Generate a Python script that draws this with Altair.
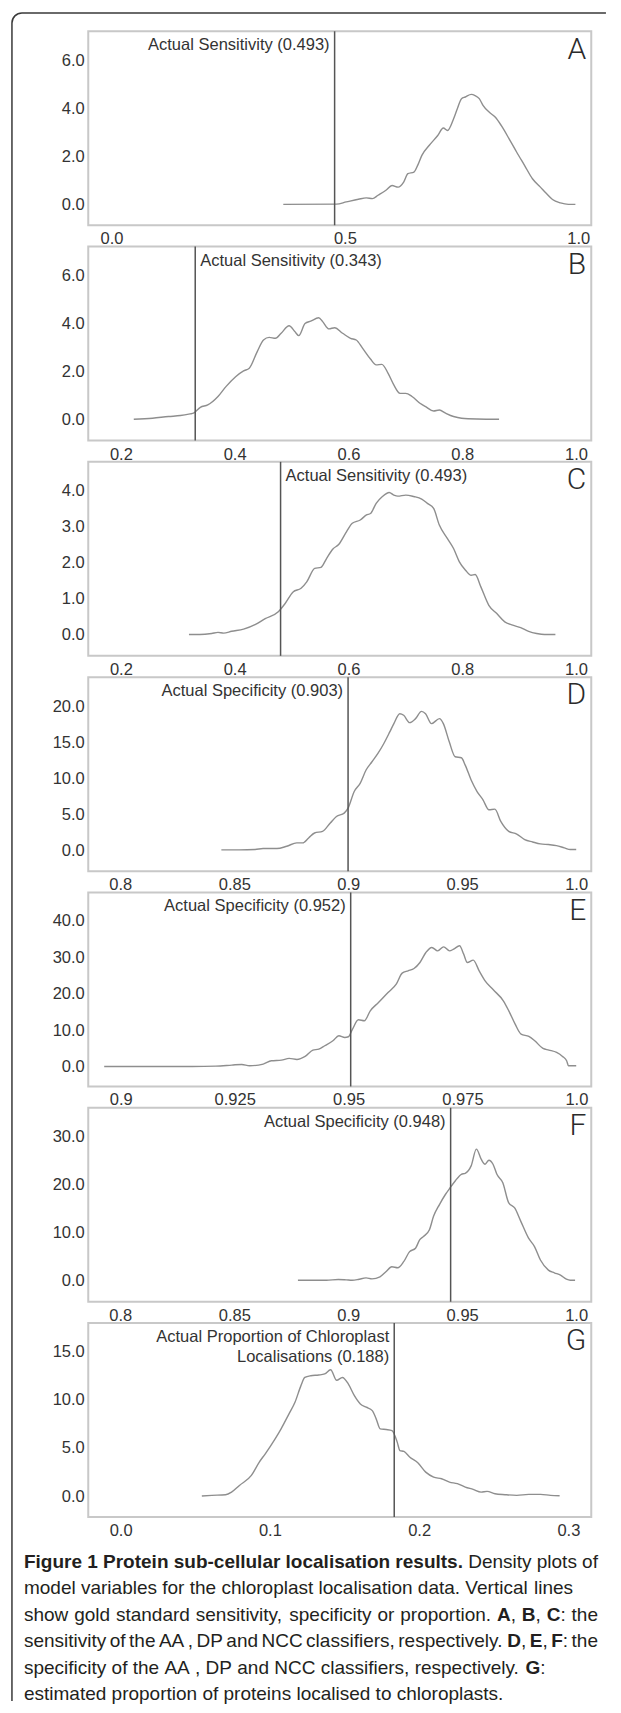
import altair as alt
import pandas as pd

# ---------------- curve data ----------------
A_x = [0.383, 0.497, 0.518, 0.544, 0.561, 0.574, 0.586, 0.603, 0.616, 0.629, 0.641, 0.650, 0.663, 0.671, 0.680, 0.696, 0.714, 0.726, 0.735, 0.748, 0.756, 0.765, 0.773, 0.786, 0.794, 0.803, 0.811, 0.824, 0.837, 0.850, 0.867, 0.883, 0.900, 0.917, 0.934, 0.947, 0.960, 0.977, 0.994, 1.009]
A_y = [0.00, 0.01, 0.10, 0.21, 0.27, 0.24, 0.38, 0.59, 0.79, 0.72, 0.93, 1.28, 1.35, 1.63, 2.05, 2.47, 2.88, 3.19, 3.09, 3.58, 4.00, 4.42, 4.49, 4.60, 4.55, 4.42, 4.14, 3.86, 3.65, 3.30, 2.74, 2.19, 1.63, 1.07, 0.72, 0.45, 0.20, 0.06, 0.00, 0.00]

B_x = [0.235, 0.268, 0.296, 0.317, 0.334, 0.340, 0.352, 0.365, 0.383, 0.397, 0.414, 0.428, 0.438, 0.452, 0.463, 0.473, 0.484, 0.494, 0.508, 0.518, 0.525, 0.536, 0.546, 0.560, 0.567, 0.578, 0.588, 0.602, 0.616, 0.626, 0.637, 0.651, 0.661, 0.671, 0.682, 0.692, 0.703, 0.713, 0.724, 0.738, 0.748, 0.762, 0.772, 0.783, 0.797, 0.811, 0.838, 0.877]
B_y = [0.03, 0.07, 0.14, 0.18, 0.25, 0.28, 0.52, 0.62, 0.97, 1.38, 1.79, 2.03, 2.14, 2.83, 3.31, 3.42, 3.38, 3.59, 3.90, 3.66, 3.49, 3.99, 4.09, 4.23, 4.07, 3.77, 3.82, 3.59, 3.38, 3.31, 2.97, 2.52, 2.28, 2.30, 1.93, 1.45, 1.10, 1.10, 0.97, 0.69, 0.55, 0.37, 0.41, 0.28, 0.14, 0.07, 0.04, 0.03]

C_x = [0.332, 0.351, 0.372, 0.383, 0.393, 0.407, 0.428, 0.449, 0.466, 0.489, 0.501, 0.515, 0.529, 0.539, 0.553, 0.564, 0.574, 0.585, 0.595, 0.609, 0.619, 0.633, 0.644, 0.651, 0.661, 0.672, 0.684, 0.692, 0.699, 0.713, 0.727, 0.741, 0.751, 0.762, 0.772, 0.786, 0.797, 0.807, 0.818, 0.828, 0.835, 0.845, 0.859, 0.873, 0.887, 0.901, 0.915, 0.929, 0.943, 0.957, 0.976]
C_y = [0.00, 0.00, 0.03, 0.06, 0.04, 0.09, 0.15, 0.28, 0.44, 0.63, 0.86, 1.18, 1.28, 1.46, 1.83, 1.86, 2.11, 2.37, 2.49, 2.85, 3.08, 3.17, 3.31, 3.35, 3.63, 3.82, 3.93, 3.86, 3.83, 3.86, 3.82, 3.75, 3.63, 3.49, 3.03, 2.66, 2.38, 2.02, 1.78, 1.64, 1.66, 1.32, 0.81, 0.58, 0.35, 0.26, 0.19, 0.09, 0.03, 0.00, 0.00]

D_x = [0.8474, 0.8553, 0.8622, 0.8657, 0.8718, 0.8761, 0.8805, 0.8831, 0.8857, 0.8883, 0.8918, 0.8952, 0.8979, 0.9013, 0.9030, 0.9057, 0.9083, 0.9109, 0.9135, 0.9161, 0.9187, 0.9213, 0.9231, 0.9257, 0.9274, 0.9300, 0.9326, 0.9352, 0.9370, 0.9396, 0.9431, 0.9448, 0.9474, 0.9500, 0.9527, 0.9544, 0.9570, 0.9596, 0.9622, 0.9648, 0.9674, 0.9700, 0.9735, 0.9770, 0.9805, 0.9840, 0.9874, 0.9909, 0.9944, 0.9979, 1.0005, 1.0031]
D_y = [0.10, 0.10, 0.14, 0.28, 0.28, 0.60, 1.06, 1.06, 1.74, 2.43, 2.66, 3.81, 4.72, 5.18, 5.87, 8.17, 9.31, 11.15, 12.29, 13.44, 14.82, 16.42, 17.57, 18.94, 18.72, 17.71, 18.26, 19.27, 18.94, 17.57, 18.26, 17.57, 15.05, 12.98, 12.84, 11.83, 9.77, 8.17, 7.02, 5.64, 5.73, 4.04, 2.66, 2.29, 1.51, 1.19, 0.92, 0.83, 0.69, 0.37, 0.14, 0.14]

E_x = [0.8979, 0.9015, 0.9102, 0.9172, 0.9224, 0.9259, 0.9281, 0.9298, 0.9328, 0.9346, 0.9368, 0.9385, 0.9402, 0.9420, 0.9437, 0.9450, 0.9463, 0.9481, 0.9494, 0.9507, 0.9515, 0.9524, 0.9537, 0.9550, 0.9563, 0.9581, 0.9602, 0.9620, 0.9633, 0.9646, 0.9659, 0.9672, 0.9685, 0.9698, 0.9711, 0.9724, 0.9737, 0.9746, 0.9759, 0.9768, 0.9776, 0.9789, 0.9802, 0.9815, 0.9833, 0.9855, 0.9867, 0.9881, 0.9894, 0.9911, 0.9924, 0.9942, 0.9955, 0.9972, 0.9985, 0.9994, 0.9998, 1.0015]
E_y = [0.00, 0.00, 0.00, 0.00, 0.09, 0.37, 0.55, 0.18, 0.64, 1.56, 1.74, 2.20, 1.92, 2.75, 4.49, 4.76, 5.68, 7.05, 8.42, 7.96, 8.15, 10.25, 12.81, 12.54, 15.28, 17.57, 20.32, 22.61, 25.63, 26.27, 26.91, 28.56, 31.30, 32.68, 31.76, 32.86, 31.76, 32.22, 33.14, 30.85, 28.56, 29.20, 26.27, 23.52, 21.05, 18.03, 15.28, 11.62, 8.88, 8.24, 7.05, 4.94, 4.49, 3.84, 2.75, 1.56, 0.18, 0.18]

F_x = [0.8810, 0.8883, 0.8935, 0.8987, 0.9022, 0.9048, 0.9074, 0.9109, 0.9135, 0.9170, 0.9196, 0.9222, 0.9248, 0.9274, 0.9300, 0.9326, 0.9344, 0.9361, 0.9387, 0.9405, 0.9431, 0.9457, 0.9478, 0.9500, 0.9527, 0.9544, 0.9570, 0.9593, 0.9614, 0.9631, 0.9648, 0.9666, 0.9683, 0.9709, 0.9735, 0.9761, 0.9788, 0.9822, 0.9848, 0.9874, 0.9909, 0.9935, 0.9962, 0.9988, 1.0005, 1.0026]
F_y = [0.00, 0.00, 0.00, 0.14, 0.07, 0.00, 0.14, 0.49, 0.28, 0.70, 1.75, 2.81, 2.60, 3.86, 5.96, 6.67, 8.42, 9.12, 10.53, 13.33, 15.79, 17.89, 19.30, 20.70, 22.11, 22.32, 23.86, 27.37, 25.26, 24.21, 25.05, 24.21, 22.11, 20.35, 16.14, 15.09, 12.28, 8.77, 7.02, 4.21, 2.11, 1.54, 1.05, 0.21, 0.00, 0.00]

G_x = [0.0591, 0.0658, 0.0750, 0.0790, 0.0843, 0.0923, 0.0976, 0.1016, 0.1082, 0.1122, 0.1175, 0.1215, 0.1255, 0.1281, 0.1321, 0.1374, 0.1414, 0.1454, 0.1494, 0.1533, 0.1573, 0.1613, 0.1653, 0.1693, 0.1733, 0.1759, 0.1786, 0.1826, 0.1865, 0.1900, 0.1918, 0.1945, 0.1985, 0.2038, 0.2091, 0.2144, 0.2197, 0.2250, 0.2303, 0.2356, 0.2409, 0.2462, 0.2502, 0.2555, 0.2622, 0.2701, 0.2781, 0.2861, 0.2927, 0.2988]
G_y = [0.00, 0.07, 0.14, 0.41, 1.10, 2.14, 3.52, 4.38, 5.93, 6.97, 8.52, 9.72, 11.45, 12.31, 12.48, 12.55, 12.66, 13.10, 12.00, 12.30, 11.60, 10.41, 9.55, 9.21, 8.86, 8.00, 6.97, 6.90, 6.79, 5.59, 4.72, 4.62, 4.03, 3.45, 2.48, 1.97, 1.79, 1.45, 1.28, 0.93, 0.69, 0.41, 0.48, 0.24, 0.14, 0.07, 0.17, 0.17, 0.07, 0.03]

# ---------------- gold-standard values, annotations, letters ----------------
letters = ["A", "B", "C", "D", "E", "F", "G"]
actual_values = [0.493, 0.343, 0.493, 0.903, 0.952, 0.948, 0.188]
annotations = [
    "Actual Sensitivity (0.493)",
    "Actual Sensitivity (0.343)",
    "Actual Sensitivity (0.493)",
    "Actual Specificity (0.903)",
    "Actual Specificity (0.952)",
    "Actual Specificity (0.948)",
    "Actual Proportion of Chloroplast\nLocalisations (0.188)",
]
annotation_side = ["right", "left", "left", "right", "right", "right", "right"]

# ---------------- axes ----------------
x_domains = [[-0.035, 1.043], [0.155, 1.039], [0.155, 1.039], [0.789, 1.0097],
             [0.8944, 1.0048], [0.789, 1.0097], [-0.017, 0.320]]
y_domains = [[-0.875, 7.24], [-0.855, 7.18], [-0.59, 4.78], [-2.85, 24.0],
             [-5.5, 47.8], [-4.5, 36.0], [-2.18, 17.94]]
x_ticks = [[0, 0.5, 1.0], [0.2, 0.4, 0.6, 0.8, 1.0], [0.2, 0.4, 0.6, 0.8, 1.0],
           [0.8, 0.85, 0.9, 0.95, 1.0], [0.9, 0.925, 0.95, 0.975, 1.0],
           [0.8, 0.85, 0.9, 0.95, 1.0], [0, 0.1, 0.2, 0.3]]
x_labels = [["0.0", "0.5", "1.0"], ["0.2", "0.4", "0.6", "0.8", "1.0"], ["0.2", "0.4", "0.6", "0.8", "1.0"],
            ["0.8", "0.85", "0.9", "0.95", "1.0"], ["0.9", "0.925", "0.95", "0.975", "1.0"],
            ["0.8", "0.85", "0.9", "0.95", "1.0"], ["0.0", "0.1", "0.2", "0.3"]]
y_ticks = [[0, 2, 4, 6], [0, 2, 4, 6], [0, 1, 2, 3, 4], [0, 5, 10, 15, 20],
           [0, 10, 20, 30, 40], [0, 10, 20, 30], [0, 5, 10, 15]]

curves_x = [A_x, B_x, C_x, D_x, E_x, F_x, G_x]
curves_y = [A_y, B_y, C_y, D_y, E_y, F_y, G_y]

# ---------------- caption (*...* = bold) ----------------
caption_text = [
    "*Figure 1 Protein sub-cellular localisation results.* Density plots of",
    "model variables for the chloroplast localisation data. Vertical lines",
    "show gold standard sensitivity, specificity or proportion. *A*, *B*, *C*: the",
    "sensitivity of the AA , DP and NCC classifiers, respectively. *D*, *E*, *F*: the",
    "specificity of the AA , DP and NCC classifiers, respectively. *G*:",
    "estimated proportion of proteins localised to chloroplasts.",
]
caption_justify = [True, False, True, True, False, False]

# ---------------- layout constants (pixels) ----------------
PW, PH, GAP = 503, 194, 21.3
PLOT_LEFT, PLOT_TOP = 86.3, 29.3
LABEL_FONT = "Liberation Sans"
FS = 16.5
TXT = "#333333"
CAP_FONT = "Liberation Sans"
CAP_FS = 19.0
CAP_X0, CAP_R = 22.0, 596.0
CAP_BASE0, CAP_LINE = 1566.0, 26.4

# Arial / Liberation Sans advance widths (1/1000 em)
_AR = {' ': 278, ',': 278, '-': 333, '.': 278, ':': 278, '1': 556,
       'A': 667, 'B': 667, 'C': 722, 'D': 722, 'E': 667, 'F': 611, 'G': 778, 'N': 722, 'P': 667, 'S': 667, 'V': 667,
       'a': 556, 'b': 556, 'c': 500, 'd': 556, 'e': 556, 'f': 278, 'g': 556, 'h': 556, 'i': 222, 'j': 222, 'k': 500,
       'l': 222, 'm': 833, 'n': 556, 'o': 556, 'p': 556, 'q': 556, 'r': 333, 's': 500, 't': 278, 'u': 556, 'v': 500,
       'w': 722, 'x': 500, 'y': 500, 'z': 500}
_AB = {' ': 278, ',': 278, '-': 333, '.': 278, ':': 333, '1': 556,
       'A': 722, 'B': 722, 'C': 722, 'D': 722, 'E': 667, 'F': 611, 'G': 778, 'N': 722, 'P': 667, 'S': 667, 'V': 667,
       'a': 556, 'b': 611, 'c': 556, 'd': 611, 'e': 556, 'f': 333, 'g': 611, 'h': 611, 'i': 278, 'j': 278, 'k': 556,
       'l': 278, 'm': 889, 'n': 611, 'o': 611, 'p': 611, 'q': 611, 'r': 389, 's': 556, 't': 333, 'u': 611, 'v': 556,
       'w': 778, 'x': 556, 'y': 556, 'z': 500}


def text_w(s, bold):
    tab = _AB if bold else _AR
    return sum(tab.get(c, 556) for c in s) / 1000.0


def tokenize(line):
    toks, bold, pending, cur, cur_sp = [], False, False, "", False
    for ch in line:
        if ch in "* ":
            if cur:
                toks.append((cur, bold, cur_sp))
                cur = ""
            if ch == "*":
                bold = not bold
            else:
                pending = True
        else:
            if not cur:
                cur_sp, pending = pending, False
            cur += ch
    if cur:
        toks.append((cur, bold, cur_sp))
    return toks


cap_origin_y = PLOT_TOP + 7 * PH + 7 * GAP
cap_rows = {True: [], False: []}
for li, line in enumerate(caption_text):
    toks = tokenize(line)
    words_w = sum(text_w(t, b) for t, b, s in toks) * CAP_FS
    nsp = sum(1 for t, b, s in toks if s)
    sp_w = _AR[' '] / 1000.0 * CAP_FS
    if caption_justify[li] and nsp:
        sp_w = (CAP_R - CAP_X0 - words_w) / nsp
    x = CAP_X0
    py = CAP_BASE0 + li * CAP_LINE - cap_origin_y
    for t, b, s in toks:
        if s:
            x += sp_w
        cap_rows[b].append({"t": t, "px": x - PLOT_LEFT, "py": py})
        x += text_w(t, b) * CAP_FS


def label_expr(ticks, labels):
    expr = "''"
    for t, l in reversed(list(zip(ticks, labels))):
        expr = "datum.value == %r ? '%s' : (%s)" % (float(t), l, expr)
    return expr


def make_panel(i):
    xs = alt.Scale(domain=x_domains[i], nice=False, zero=False)
    ys = alt.Scale(domain=y_domains[i], nice=False, zero=False)
    xax = alt.Axis(values=x_ticks[i], labelExpr=label_expr(x_ticks[i], x_labels[i]), ticks=False,
                   domain=False, grid=False, title=None, labelFont=LABEL_FONT, labelFontSize=FS,
                   labelColor=TXT, labelPadding=5.5, labelOffset=7, labelFlush=False)
    yax = alt.Axis(values=y_ticks[i], format=".1f", ticks=False, domain=False, grid=False, title=None,
                   labelFont=LABEL_FONT, labelFontSize=FS, labelColor=TXT, labelPadding=4,
                   labelFlush=False)
    X = alt.X("x:Q", scale=xs, axis=xax)
    Y = alt.Y("y:Q", scale=ys, axis=yax)

    curve_df = pd.DataFrame({"x": curves_x[i], "y": curves_y[i]})
    curve = alt.Chart(curve_df).mark_line(color="#8e8e8e", strokeWidth=1.4,
                                          interpolate="monotone").encode(x=X, y=Y)

    rule_df = pd.DataFrame({"x": [actual_values[i]]})
    rule = alt.Chart(rule_df).mark_rule(color="#555555", strokeWidth=1.5).encode(x=X)

    ann_df = pd.DataFrame({"x": [actual_values[i]], "y": [y_domains[i][1]], "t": [annotations[i]]})
    side = annotation_side[i]
    ann = alt.Chart(ann_df).mark_text(
        align=side, baseline="top", dx=(5 if side == "left" else -5), dy=6,
        font=LABEL_FONT, fontSize=FS, color=TXT, lineBreak="\n", lineHeight=20
    ).encode(x=X, y=Y, text="t:N")

    let_df = pd.DataFrame({"x": [x_domains[i][1]], "y": [y_domains[i][1]], "t": [letters[i]]})
    let = alt.Chart(let_df).mark_text(
        align="right", baseline="alphabetic", dx=-5, dy=27.3, font="Roboto", fontWeight=300,
        fontSize=30, color="#2b2b2b"
    ).encode(x=X, y=Y, text="t:N")

    layers = [curve, rule, ann, let]
    if i == 0:
        # outer rounded frame of the figure: only top and left edges drawn (dash pattern)
        bx, by = 10.0 - PLOT_LEFT, 11.0 - PLOT_TOP
        bx2, by2 = 604.0 - PLOT_LEFT, 1699.0 - PLOT_TOP
        w, h, r = bx2 - bx, by2 - by, 10.0
        dash = [w - r, h + w, h - r + 1.6 * r + 2, 20000]
        border = alt.Chart(pd.DataFrame({"b": [0]})).mark_rect(
            fillOpacity=0, stroke="#3a3a3a", strokeWidth=1.5, cornerRadiusTopLeft=r, strokeDash=dash
        ).encode(x=alt.value(bx), x2=alt.value(bx2), y=alt.value(by), y2=alt.value(by2))
        layers = [border] + layers
    return alt.layer(*layers).properties(width=PW, height=PH)


panels = [make_panel(i) for i in range(7)]


def cap_layer(bold):
    mk = dict(align="left", baseline="alphabetic", font=CAP_FONT, fontSize=CAP_FS, color="#231f20")
    if bold:
        mk["fontWeight"] = "bold"
    return alt.Chart(pd.DataFrame(cap_rows[bold])).mark_text(**mk).encode(
        x=alt.X("px:Q", scale=None, axis=None),
        y=alt.Y("py:Q", scale=None, axis=None),
        text="t:N",
    )


caption = alt.layer(cap_layer(False), cap_layer(True)).properties(
    width=PW, height=140, view=alt.ViewBackground(stroke="transparent")
)

chart = alt.vconcat(*panels, caption, spacing=GAP, bounds="flush").properties(
    padding={"left": 1.25, "top": 2.25, "right": 0, "bottom": 0},
    background="white",
).configure_view(stroke="#c8c8c8", strokeWidth=2)

chart.save("out.html", embed_options={"renderer": "svg", "actions": False})
